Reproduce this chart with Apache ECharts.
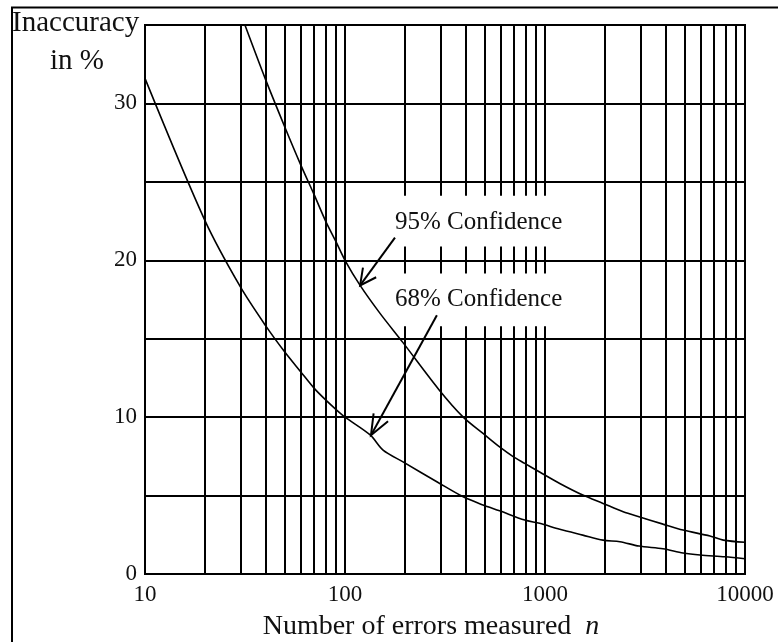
<!DOCTYPE html>
<html>
<head>
<meta charset="utf-8">
<script src="https://cdn.jsdelivr.net/npm/echarts@6/dist/echarts.min.js"></script>
<style>
  html, body { margin: 0; padding: 0; background: #fff; }
  #chart { width: 778px; height: 642px; }
</style>
</head>
<body>
<div id="chart"></div>
<script>
// Number of errors n and the relative inaccuracy (%) for each confidence level
const n68 = [10, 20, 30, 40, 50, 60, 70, 80, 90, 100, 134, 155, 195, 295, 390, 490, 593, 792, 940,
             1185, 1545, 1950, 2370, 2950, 3890, 4900, 5960, 7940, 10000];
const pct68 = [31.6, 22.5, 18.3, 15.85, 14.15, 12.9, 11.85, 11.1, 10.5, 10.0, 8.85, 7.9, 7.15, 5.8, 4.92,
               4.4, 4.03, 3.44, 3.23, 2.85, 2.48, 2.16, 2.06, 1.78, 1.61, 1.34, 1.21, 1.10, 0.97];

const n95 = [31.6, 40, 50, 60, 70, 80, 90, 100, 119, 150, 195, 295, 390, 490, 593, 690, 792, 940,
             1185, 1545, 1950, 2460, 2950, 3890, 4900, 6680, 7790, 10000];
const pct95 = [35.0, 31.55, 28.5, 26.1, 24.2, 22.5, 21.2, 20.0, 18.4, 16.6, 14.75, 11.75, 10.0, 8.96, 8.1, 7.5,
               7.05, 6.5, 5.77, 5.03, 4.5, 3.97, 3.65, 3.18, 2.8, 2.42, 2.16, 2.02];

// Axis ranges and grid lines
const xMin = 10, xMax = 10000;
const yMin = 0, yMax = 35, yStep = 5;
const yLabelledTicks = [0, 10, 20, 30];
const xMinorGrid = [20, 30, 40, 50, 60, 70, 80, 90,
                    200, 300, 400, 500, 600, 700, 800, 900,
                    2000, 3000, 4000, 5000, 6000, 7000, 8000, 9000];

// Annotation texts
const label95 = '95% Confidence';
const label68 = '68% Confidence';
const yTitle = ['Inaccuracy', 'in %'];
const xTitle = 'Number of errors measured  ';
const xTitleVar = 'n';

const FONT = "'Liberation Serif', 'Times New Roman', 'DejaVu Serif', serif";

const zip = (xs, ys) => xs.map((x, i) => [x, ys[i]]);

const chart = echarts.init(document.getElementById('chart'), null, { renderer: 'canvas' });

chart.setOption({
  animation: false,
  backgroundColor: '#fff',
  grid: {
    left: 145, right: 33, top: 25, bottom: 68,
    show: true, borderColor: '#000', borderWidth: 2, backgroundColor: 'transparent'
  },
  xAxis: {
    type: 'log', logBase: 10, min: xMin, max: xMax,
    axisLine: { show: true, lineStyle: { color: '#000', width: 2 } },
    axisTick: { show: false },
    axisLabel: {
      color: '#111', fontFamily: FONT, fontSize: 23, margin: 9,
      showMinLabel: true, showMaxLabel: true,
      formatter: v => String(Math.round(v))
    },
    splitLine: { show: true, lineStyle: { color: '#000', width: 2 } }
  },
  yAxis: {
    type: 'value', min: yMin, max: yMax, interval: yStep,
    axisLine: { show: true, lineStyle: { color: '#000', width: 2 } },
    axisTick: { show: false },
    axisLabel: {
      color: '#111', fontFamily: FONT, fontSize: 23, margin: 8,
      formatter: v => (yLabelledTicks.indexOf(Math.round(v)) >= 0 ? String(Math.round(v)) : '')
    },
    splitLine: { show: true, lineStyle: { color: '#000', width: 2 } }
  },
  series: [
    {
      // intermediate vertical grid lines of the log scale
      type: 'line', data: [], z: 1, silent: true,
      markLine: {
        z: 1, silent: true, symbol: ['none', 'none'], animation: false,
        label: { show: false },
        lineStyle: { color: '#000', width: 2, type: 'solid' },
        emphasis: { disabled: true },
        data: xMinorGrid.map(v => ({ xAxis: v }))
      }
    },
    {
      name: '68%', type: 'line', z: 20, smooth: 0.3, showSymbol: false,
      lineStyle: { color: '#000', width: 1.6 },
      data: zip(n68, pct68)
    },
    {
      name: '95%', type: 'line', z: 20, smooth: 0.3, showSymbol: false,
      lineStyle: { color: '#000', width: 1.6 },
      data: zip(n95, pct95)
    }
  ]
});

// Annotations placed in data space
const px = (n, v) => chart.convertToPixel({ gridIndex: 0 }, [n, v]);

function arrow(tail, tip, headLen, headDeg) {
  const a = px(tail[0], tail[1]);
  const b = px(tip[0], tip[1]);
  const back = Math.atan2(a[1] - b[1], a[0] - b[0]);
  const d = headDeg * Math.PI / 180;
  const w1 = [b[0] + headLen * Math.cos(back + d), b[1] + headLen * Math.sin(back + d)];
  const w2 = [b[0] + headLen * Math.cos(back - d), b[1] + headLen * Math.sin(back - d)];
  const style = { stroke: '#000', lineWidth: 2, fill: null };
  return [
    { type: 'line', z: 30, silent: true, shape: { x1: a[0], y1: a[1], x2: b[0], y2: b[1] }, style },
    { type: 'polyline', z: 30, silent: true, shape: { points: [w1, b, w2] }, style }
  ];
}

function box(n1, v1, n2, v2) {
  const p1 = px(n1, v1), p2 = px(n2, v2);
  return {
    type: 'rect', z: 10, silent: true,
    shape: { x: p1[0], y: p1[1], width: p2[0] - p1[0], height: p2[1] - p1[1] },
    style: { fill: '#fff', stroke: null }
  };
}

function label(n, v, text) {
  const p = px(n, v);
  return {
    type: 'text', z: 30, silent: true, x: p[0], y: p[1],
    style: { text, fill: '#111', font: `25px ${FONT}`, textAlign: 'left', textVerticalAlign: 'middle' }
  };
}

const yTitleStyle = { fill: '#111', font: `29px ${FONT}`, textVerticalAlign: 'middle' };

chart.setOption({
  graphic: [
    // outer frame
    { type: 'rect', z: 0, silent: true, shape: { x: 12, y: 7.5, width: 820, height: 700 },
      style: { fill: null, stroke: '#000', lineWidth: 2 } },
    box(175.8, 24.12, 1365, 20.88),
    box(175.8, 19.16, 1365, 15.79),
    label(177.8, 22.4, label95),
    label(177.8, 17.5, label68),
    ...arrow([177.8, 21.45], [119, 18.4], 18, 27),
    ...arrow([288, 16.49], [134.9, 8.85], 22, 22),
    { type: 'text', z: 30, silent: true, x: 12, y: 23.5,
      style: Object.assign({ text: yTitle[0], textAlign: 'left' }, yTitleStyle) },
    { type: 'text', z: 30, silent: true, x: 77, y: 61,
      style: Object.assign({ text: yTitle[1], textAlign: 'center' }, yTitleStyle) },
    { type: 'text', z: 30, silent: true, x: 431, y: 627,
      style: {
        text: `{t|${xTitle}}{i|${xTitleVar}}`,
        textAlign: 'center', textVerticalAlign: 'middle',
        rich: {
          t: { fill: '#111', fontFamily: FONT, fontSize: 28 },
          i: { fill: '#111', fontFamily: FONT, fontSize: 28, fontStyle: 'italic' }
        }
      } }
  ]
});
</script>
</body>
</html>
